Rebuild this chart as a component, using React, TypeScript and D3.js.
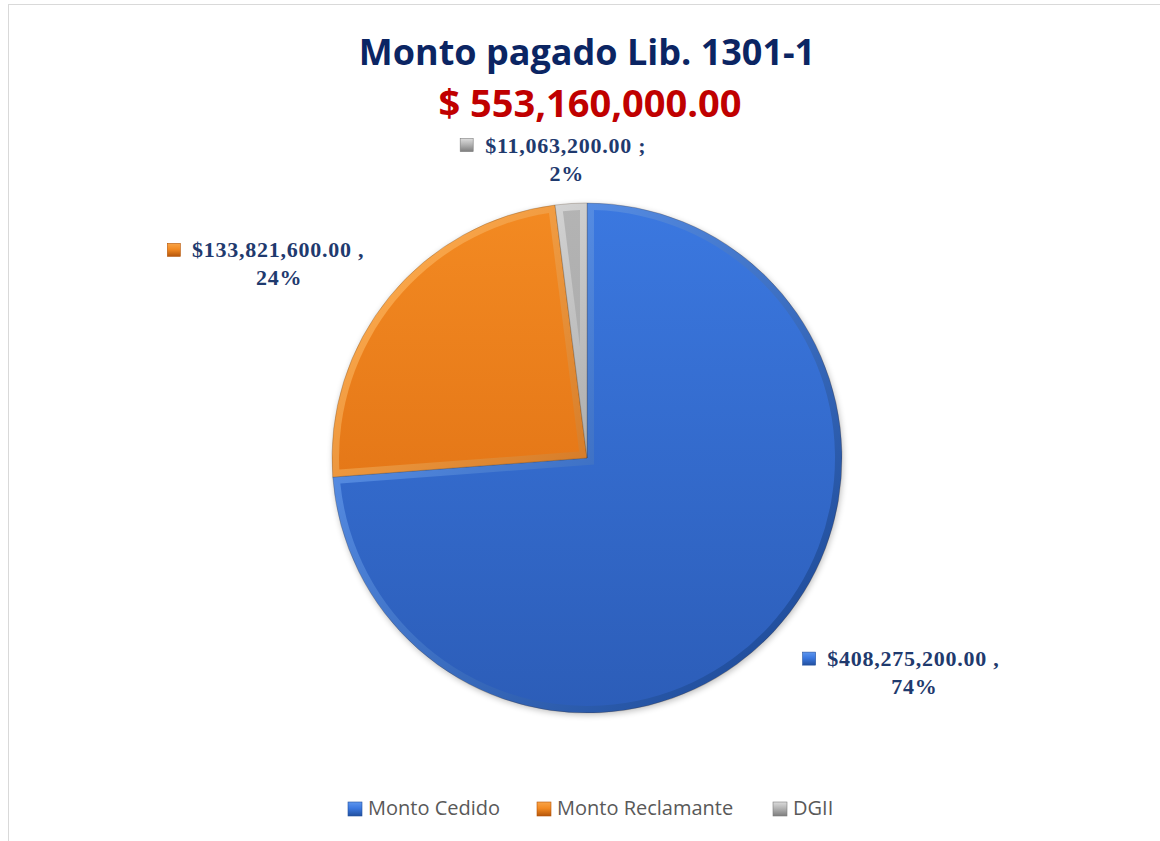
import React from "react";
import * as d3 from "d3";

// chart data
const categories = ["Monto Cedido", "Monto Reclamante", "DGII"];
const values = [408275200, 133821600, 11063200];
const separators = [" ,", " ,", " ;"];
const titleText = "Monto pagado Lib. 1301-1";
const totalText = "$ 553,160,000.00";

// per slice look: [mainTop, mainBottom, edgeLight, edgeDark]
const palette = [
  ["#3b78e0", "#2c5db8", "#5e96ee", "#22509f"],
  ["#f38a22", "#d9680f", "#f8a448", "#b5560b"],
  ["#b4b4b4", "#9a9a9a", "#dcdcdc", "#7d7d7d"],
];

const W = 1160;
const H = 841;
const cx = 587;
const cy = 458;
const R = 255;
const bevel = 7;

// label nudges from the outer centroid (layout only)
const labelNudge = [
  [102, 0],
  [-72, -7],
  [-2, 0],
];
const legendX = [348, 537, 773];

const money = d3.format("$,.2f");

function insetSlice(a0: number, a1: number, r: number, b: number) {
  const theta = a1 - a0;
  const d = b / Math.sin(theta / 2);
  const mid = a0 + theta / 2;
  const delta = Math.asin(b / (r - b));
  const p = d3.path();
  p.moveTo(d * Math.sin(mid), -d * Math.cos(mid));
  p.arc(0, 0, r - b, a0 + delta - Math.PI / 2, a1 - delta - Math.PI / 2);
  p.closePath();
  return p.toString();
}

export default function App() {
  const total = d3.sum(values);
  const pie = d3.pie<number>().sort(null).value((d) => d);
  const arcs = pie(values);
  const arc = d3.arc<d3.PieArcDatum<number>>().innerRadius(0).outerRadius(R);
  const labelArc = d3
    .arc<d3.PieArcDatum<number>>()
    .innerRadius(R * 1.2)
    .outerRadius(R * 1.2);
  const pct = (v: number) => Math.round((v / total) * 100) + "%";

  return (
    <svg
      width={W}
      height={H}
      style={{ position: "absolute", left: 0, top: 0, background: "#fff" }}
    >
      <defs>
        {palette.map((c, i) => (
          <React.Fragment key={i}>
            <linearGradient
              id={"main" + i}
              gradientUnits="userSpaceOnUse"
              x1={0}
              y1={-R}
              x2={0}
              y2={R}
            >
              <stop offset="0%" stopColor={c[0]} />
              <stop offset="100%" stopColor={c[1]} />
            </linearGradient>
            <linearGradient
              id={"edge" + i}
              gradientUnits="userSpaceOnUse"
              x1={-R * 0.7}
              y1={-R * 0.7}
              x2={R * 0.7}
              y2={R * 0.7}
            >
              <stop offset="0%" stopColor={c[2]} />
              <stop offset="100%" stopColor={c[3]} />
            </linearGradient>
            <linearGradient id={"mark" + i} x1="0" y1="0" x2="0" y2="1">
              <stop offset="0%" stopColor={c[2]} />
              <stop offset="45%" stopColor={c[0]} />
              <stop offset="100%" stopColor={c[3]} />
            </linearGradient>
          </React.Fragment>
        ))}
        <filter id="shadow" x="-20%" y="-20%" width="140%" height="140%">
          <feGaussianBlur stdDeviation="3" />
        </filter>
      </defs>

      <rect
        x={8.5}
        y={4.5}
        width={W + 20}
        height={H + 20}
        fill="none"
        stroke="#d9d9d9"
        strokeWidth={1}
      />

      <text
        x={587}
        y={65}
        textAnchor="middle"
        fontFamily="'Open Sans', sans-serif"
        fontWeight={700}
        fontSize={36}
        fill="#0b2563"
      >
        {titleText}
      </text>
      <text
        x={590}
        y={117}
        textAnchor="middle"
        fontFamily="'Open Sans', sans-serif"
        fontWeight={700}
        fontSize={38}
        fill="#c00000"
      >
        {totalText}
      </text>

      <g transform={`translate(${cx},${cy})`}>
        <circle r={R} cx={1} cy={2} fill="#000" opacity={0.25} filter="url(#shadow)" />
        {arcs.map((a, i) => (
          <g key={categories[i]}>
            <path
              d={arc(a) || ""}
              fill={`url(#edge${i})`}
              stroke="rgba(70,45,20,0.3)"
              strokeWidth={0.8}
            />
            <path
              d={insetSlice(a.startAngle, a.endAngle, R, bevel)}
              fill={`url(#main${i})`}
            />
          </g>
        ))}
      </g>

      {arcs.map((a, i) => {
        const [lx, ly] = labelArc.centroid(a);
        const x = cx + lx + labelNudge[i][0];
        const y = cy + ly + labelNudge[i][1];
        const line1 = money(values[i]) + separators[i];
        const approxW = line1.length * 10.2;
        return (
          <g
            key={"lbl" + i}
            fontFamily="'Liberation Serif', 'Times New Roman', serif"
            fontWeight={700}
            fontSize={22}
            fill="#1f3a6e"
            letterSpacing={0.75}
          >
            <rect
              x={x - approxW / 2 - 24}
              y={y - 14}
              width={13}
              height={13}
              fill={`url(#mark${i})`}
              stroke={palette[i][3]}
              strokeWidth={0.6}
            />
            <text x={x} y={y} textAnchor="middle">
              {line1}
            </text>
            <text x={x + 1} y={y + 28} textAnchor="middle">
              {pct(values[i])}
            </text>
          </g>
        );
      })}

      <g fontFamily="'Open Sans', sans-serif" fontSize={20} fill="#595959">
        {categories.map((c, i) => (
          <g key={"leg" + c} transform={`translate(${legendX[i]},0)`}>
            <rect
              x={0}
              y={802}
              width={14}
              height={14}
              fill={`url(#mark${i})`}
              stroke={palette[i][3]}
              strokeWidth={0.6}
            />
            <text x={20} y={815}>
              {c}
            </text>
          </g>
        ))}
      </g>
    </svg>
  );
}
